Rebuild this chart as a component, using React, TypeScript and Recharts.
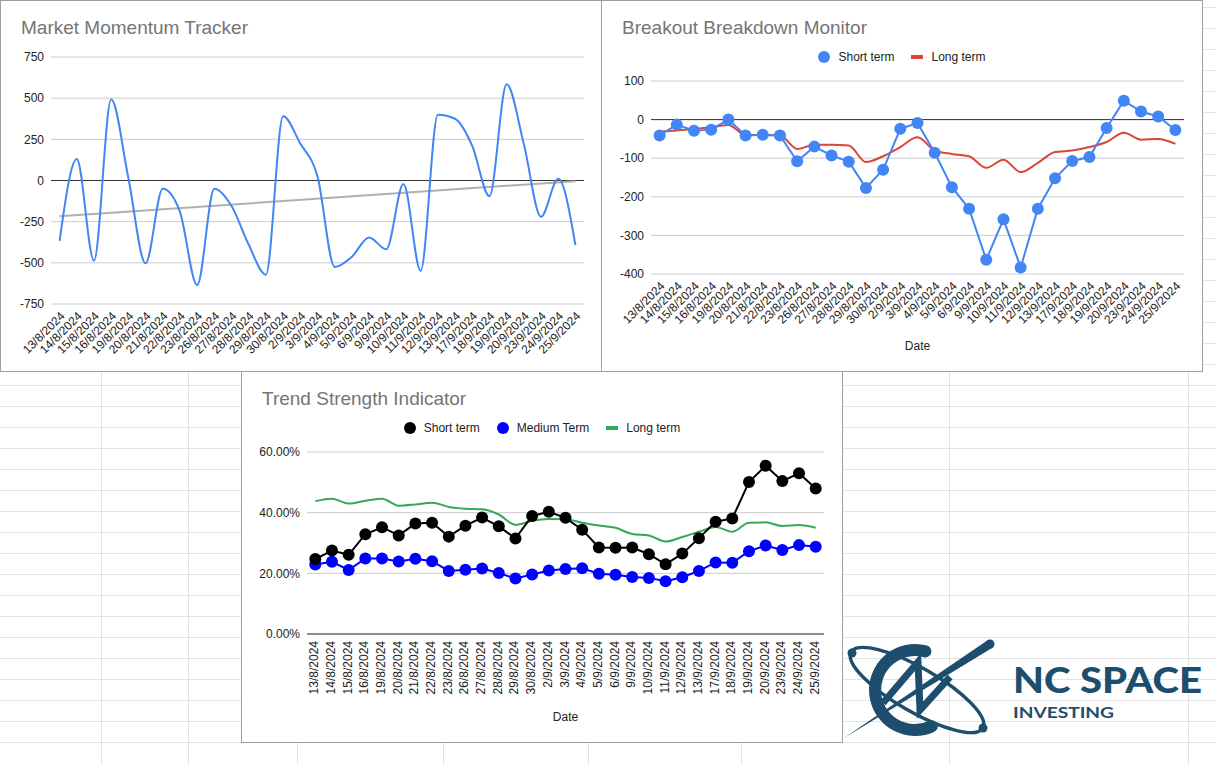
import React from "react";
import {
  CartesianGrid,
  Line,
  LineChart,
  ReferenceLine,
  XAxis,
  YAxis,
} from "recharts";

const dates = [
  "13/8/2024", "14/8/2024", "15/8/2024", "16/8/2024", "19/8/2024", "20/8/2024",
  "21/8/2024", "22/8/2024", "23/8/2024", "26/8/2024", "27/8/2024", "28/8/2024",
  "29/8/2024", "30/8/2024", "2/9/2024", "3/9/2024", "4/9/2024", "5/9/2024",
  "6/9/2024", "9/9/2024", "10/9/2024", "11/9/2024", "12/9/2024", "13/9/2024",
  "17/9/2024", "18/9/2024", "19/9/2024", "20/9/2024", "23/9/2024", "24/9/2024",
  "25/9/2024",
];

// Market Momentum Tracker
const momentum = [
  -366, 130, -487, 493, 15, -503, -50, -190, -635, -50, -155, -390, -572, 390,
  224, 25, -525, -463, -346, -418, -22, -548, 400, 375, 210, -95, 584, 222,
  -220, 10, -392,
];
const momentumTrend = [-217, -4]; // trendline at first and last date
const momentumTicks = [-750, -500, -250, 0, 250, 500, 750];

// Breakout Breakdown Monitor
const breakoutShort = [
  -41, -13, -29, -26, 0, -41, -39, -41, -108, -70, -93, -109, -177, -130, -24,
  -9, -86, -175, -231, -363, -258, -383, -231, -152, -107, -97, -22, 49, 21, 8,
  -27,
];
const breakoutLong = [
  -31, -28, -24, -20, -14, -40, -40, -41, -76, -65, -65, -67, -110, -95, -71,
  -46, -80, -89, -95, -125, -104, -136, -112, -84, -80, -71, -58, -34, -52, -50,
  -63,
];
const breakoutTicks = [-400, -300, -200, -100, 0, 100];

// Trend Strength Indicator (percent)
const strengthShort = [
  24.7, 27.5, 26.1, 32.9, 35.2, 32.5, 36.4, 36.7, 32.1, 35.7, 38.4, 35.5, 31.5,
  38.9, 40.3, 38.3, 34.4, 28.5, 28.4, 28.5, 26.3, 23.0, 26.5, 31.6, 37.0, 38.1,
  50.1, 55.5, 50.4, 53.0, 48.0,
];
const strengthMedium = [
  22.9, 23.8, 21.1, 24.9, 24.9, 23.9, 24.8, 24.0, 20.8, 21.2, 21.6, 20.1, 18.3,
  19.6, 20.9, 21.4, 21.7, 19.9, 19.5, 18.8, 18.5, 17.4, 18.7, 20.8, 23.6, 23.5,
  27.3, 29.2, 27.7, 29.3, 28.8,
];
const strengthLong = [
  43.8, 44.6, 43.0, 43.9, 44.6, 42.3, 42.7, 43.3, 41.9, 41.3, 41.1, 39.4, 36.0,
  37.3, 37.9, 37.8, 36.7, 35.8, 35.0, 33.0, 32.5, 30.5, 32.0, 33.7, 35.3, 33.7,
  36.7, 36.8, 35.6, 35.9, 35.0,
];
const strengthTicks = [0, 20, 40, 60];

const sheetColumns = [101, 188, 297, 443, 588, 741, 949, 1188];

const FONT = '"Liberation Sans", Arial, Helvetica, sans-serif';
const LOGO_FONT = 'Lato, "Open Sans", "Liberation Sans", sans-serif';
const INK = "#222222";
const GRID = "#cccccc";
const BLUE = "#4285f4";
const RED = "#db4437";
const GREEN = "#34a853";
const LOGO = "#1d4e6d";

const momentumData = dates.map((date, i) => ({ date, value: momentum[i] }));
const breakoutData = dates.map((date, i) => ({
  date,
  short: breakoutShort[i],
  long: breakoutLong[i],
}));
const strengthData = dates.map((date, i) => ({
  date,
  short: strengthShort[i],
  medium: strengthMedium[i],
  long: strengthLong[i],
}));

const yTick = { fontSize: 12, fill: INK, fontFamily: FONT };

function SlantTick(props: any) {
  const { x, y, payload } = props;
  return (
    <g transform={`translate(${x + 3},${y + 10})`}>
      <text
        transform="rotate(-45)"
        textAnchor="end"
        dominantBaseline="central"
        fontSize={12}
        fill={INK}
        fontFamily={FONT}
      >
        {payload.value}
      </text>
    </g>
  );
}

function UprightTick(props: any) {
  const { x, y, payload } = props;
  return (
    <g transform={`translate(${x - 1},${y + 7})`}>
      <text
        transform="rotate(-90)"
        textAnchor="end"
        dominantBaseline="central"
        fontSize={12}
        fill={INK}
        fontFamily={FONT}
      >
        {payload.value}
      </text>
    </g>
  );
}

type LegendItem = { label: string; color: string; shape: "circle" | "line" };

function LegendRow({ items, top }: { items: LegendItem[]; top: number }) {
  return (
    <div
      style={{
        position: "absolute",
        left: 0,
        right: 0,
        top,
        display: "flex",
        justifyContent: "center",
        gap: 17,
        fontFamily: FONT,
        fontSize: 12,
        lineHeight: "14px",
        color: INK,
        zIndex: 2,
      }}
    >
      {items.map((it) => (
        <div key={it.label} style={{ display: "flex", alignItems: "center", gap: 8 }}>
          <span
            style={{
              display: "inline-block",
              width: 12,
              height: it.shape === "circle" ? 12 : 4,
              borderRadius: it.shape === "circle" ? 6 : 0,
              background: it.color,
            }}
          />
          <span>{it.label}</span>
        </div>
      ))}
    </div>
  );
}

function Panel({
  left,
  top,
  title,
  children,
}: {
  left: number;
  top: number;
  title: string;
  children: React.ReactNode;
}) {
  return (
    <div
      style={{
        position: "absolute",
        left,
        top,
        width: 602,
        height: 372,
        boxSizing: "border-box",
        border: "1px solid #9e9e9e",
        background: "#ffffff",
      }}
    >
      <div
        style={{
          position: "absolute",
          left: 20,
          top: 16,
          fontFamily: FONT,
          fontSize: 19,
          lineHeight: "22px",
          color: "#757575",
          whiteSpace: "nowrap",
          zIndex: 2,
        }}
      >
        {title}
      </div>
      <div style={{ position: "absolute", left: 0, top: 0 }}>{children}</div>
    </div>
  );
}

function MomentumChart() {
  return (
    <LineChart
      width={600}
      height={370}
      data={momentumData}
      margin={{ top: 56, right: 17, bottom: 0, left: 0 }}
    >
      <CartesianGrid vertical={false} stroke={GRID} />
      <XAxis
        dataKey="date"
        interval={0}
        tickLine={false}
        axisLine={false}
        tickSize={0}
        tickMargin={0}
        height={67}
        padding={{ left: 8.6, right: 8.6 }}
        tick={(p: any) => <SlantTick {...p} />}
      />
      <YAxis
        type="number"
        domain={[-750, 750]}
        ticks={momentumTicks}
        interval={0}
        tickLine={false}
        axisLine={false}
        tickSize={0}
        tickMargin={7}
        width={50}
        tick={yTick}
      />
      <ReferenceLine y={0} stroke="#333333" strokeWidth={1} />
      <ReferenceLine
        segment={[
          { x: dates[0], y: momentumTrend[0] },
          { x: dates[dates.length - 1], y: momentumTrend[1] },
        ]}
        stroke="#b0b0b0"
        strokeWidth={2}
      />
      <Line
        type="monotone"
        dataKey="value"
        stroke={BLUE}
        strokeWidth={2}
        dot={false}
        activeDot={false}
        isAnimationActive={false}
      />
    </LineChart>
  );
}

function BreakoutChart() {
  return (
    <LineChart
      width={600}
      height={370}
      data={breakoutData}
      margin={{ top: 80, right: 18, bottom: 0, left: 0 }}
    >
      <CartesianGrid vertical={false} stroke={GRID} />
      <XAxis
        dataKey="date"
        interval={0}
        tickLine={false}
        axisLine={false}
        tickSize={0}
        tickMargin={0}
        height={97}
        padding={{ left: 8.6, right: 8.6 }}
        tick={(p: any) => <SlantTick {...p} />}
        label={{
          value: "Date",
          position: "insideBottom",
          offset: 21,
          fill: INK,
          fontSize: 12,
          fontFamily: FONT,
        }}
      />
      <YAxis
        type="number"
        domain={[-400, 100]}
        ticks={breakoutTicks}
        interval={0}
        tickLine={false}
        axisLine={false}
        tickSize={0}
        tickMargin={7}
        width={49}
        tick={yTick}
      />
      <ReferenceLine y={0} stroke="#333333" strokeWidth={1} />
      <Line
        type="monotone"
        dataKey="long"
        name="Long term"
        stroke={RED}
        strokeWidth={2}
        dot={false}
        activeDot={false}
        isAnimationActive={false}
      />
      <Line
        type="linear"
        dataKey="short"
        name="Short term"
        stroke={BLUE}
        strokeWidth={2}
        dot={{ r: 6, fill: BLUE, stroke: BLUE, strokeWidth: 0 }}
        activeDot={false}
        isAnimationActive={false}
      />
    </LineChart>
  );
}

function StrengthChart() {
  return (
    <LineChart
      width={600}
      height={370}
      data={strengthData}
      margin={{ top: 80, right: 18, bottom: 0, left: 0 }}
    >
      <CartesianGrid vertical={false} stroke={GRID} />
      <XAxis
        dataKey="date"
        interval={0}
        tickLine={false}
        axisLine={{ stroke: "#333333" }}
        tickSize={0}
        tickMargin={0}
        height={108}
        padding={{ left: 8.3, right: 8.3 }}
        tick={(p: any) => <UprightTick {...p} />}
        label={{
          value: "Date",
          position: "insideBottom",
          offset: 21,
          fill: INK,
          fontSize: 12,
          fontFamily: FONT,
        }}
      />
      <YAxis
        type="number"
        domain={[0, 60]}
        ticks={strengthTicks}
        interval={0}
        tickLine={false}
        axisLine={false}
        tickSize={0}
        tickMargin={7}
        width={65}
        tick={yTick}
        tickFormatter={(v: number) => `${v.toFixed(2)}%`}
      />
      <Line
        type="monotone"
        dataKey="long"
        name="Long term"
        stroke={GREEN}
        strokeWidth={2}
        dot={false}
        activeDot={false}
        isAnimationActive={false}
      />
      <Line
        type="linear"
        dataKey="medium"
        name="Medium Term"
        stroke="#0000ff"
        strokeWidth={2}
        dot={{ r: 6, fill: "#0000ff", stroke: "#0000ff", strokeWidth: 0 }}
        activeDot={false}
        isAnimationActive={false}
      />
      <Line
        type="linear"
        dataKey="short"
        name="Short term"
        stroke="#000000"
        strokeWidth={2}
        dot={{ r: 6, fill: "#000000", stroke: "#000000", strokeWidth: 0 }}
        activeDot={false}
        isAnimationActive={false}
      />
    </LineChart>
  );
}

function Logo() {
  return (
    <svg
      width={376}
      height={120}
      style={{ position: "absolute", left: 840, top: 630 }}
    >
      <g fill="none" stroke={LOGO} strokeLinecap="round">
        <ellipse cx={77} cy={60} rx={76} ry={22} strokeWidth={3.5} transform="rotate(30 77 60)" />
        <path d="M 85.4 21.4 A 40 40 0 1 0 91.9 96.3" strokeWidth={12} />
        <polyline points="43,73 78,32 80,80 110,47" strokeWidth={7} strokeLinejoin="miter" strokeLinecap="butt" />
      </g>
      <g fill={LOGO}>
        <circle cx={12} cy={23} r={4.5} />
        <circle cx={143} cy={98} r={4.5} />
        <polygon points="4,108 147.6,10.2 152.4,17.8" />
        <circle cx={150} cy={14} r={4.5} />
        <text
          x={173}
          y={63}
          fontFamily={LOGO_FONT}
          fontWeight={900}
          fontSize={36}
          textLength={189}
          lengthAdjust="spacingAndGlyphs"
        >
          NC SPACE
        </text>
        <text
          x={173}
          y={88}
          fontFamily={LOGO_FONT}
          fontWeight={700}
          fontSize={16}
          textLength={101}
          lengthAdjust="spacingAndGlyphs"
        >
          INVESTING
        </text>
      </g>
    </svg>
  );
}

export default function App() {
  return (
    <div
      style={{
        position: "absolute",
        left: 0,
        top: 0,
        width: 1216,
        height: 764,
        overflow: "hidden",
        background: "#ffffff",
        backgroundImage:
          "repeating-linear-gradient(to bottom, transparent 0px, transparent 20px, #e2e2e2 20px, #e2e2e2 21px)",
        backgroundPosition: "0 -13px",
      }}
    >
      {sheetColumns.map((x) => (
        <div
          key={x}
          style={{
            position: "absolute",
            left: x,
            top: 0,
            width: 1,
            height: 764,
            background: "#e2e2e2",
          }}
        />
      ))}

      <Panel left={0} top={0} title="Market Momentum Tracker">
        <MomentumChart />
      </Panel>

      <Panel left={601} top={0} title="Breakout Breakdown Monitor">
        <LegendRow
          top={49}
          items={[
            { label: "Short term", color: BLUE, shape: "circle" },
            { label: "Long term", color: RED, shape: "line" },
          ]}
        />
        <BreakoutChart />
      </Panel>

      <Panel left={241} top={371} title="Trend Strength Indicator">
        <LegendRow
          top={49}
          items={[
            { label: "Short term", color: "#000000", shape: "circle" },
            { label: "Medium Term", color: "#0000ff", shape: "circle" },
            { label: "Long term", color: GREEN, shape: "line" },
          ]}
        />
        <StrengthChart />
      </Panel>

      <Logo />
    </div>
  );
}
